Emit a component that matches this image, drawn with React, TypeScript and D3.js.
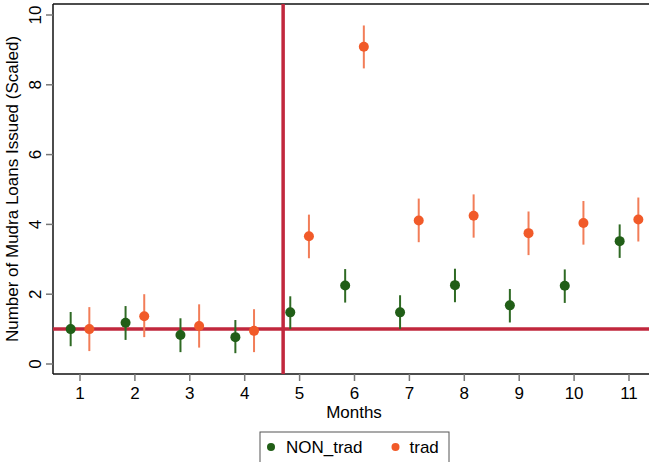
import React from "react";
import * as d3 from "d3";

const months = [1, 2, 3, 4, 5, 6, 7, 8, 9, 10, 11];
const nonTrad = [1.0, 1.18, 0.83, 0.77, 1.48, 2.25, 1.48, 2.26, 1.68, 2.24, 3.52];
const nonTradLo = [0.51, 0.69, 0.34, 0.31, 1.0, 1.76, 1.0, 1.77, 1.19, 1.75, 3.04];
const nonTradHi = [1.49, 1.66, 1.31, 1.26, 1.94, 2.72, 1.97, 2.73, 2.15, 2.71, 4.0];
const trad = [1.0, 1.37, 1.09, 0.95, 3.66, 9.09, 4.11, 4.25, 3.75, 4.04, 4.14];
const tradLo = [0.37, 0.77, 0.47, 0.34, 3.03, 8.47, 3.49, 3.62, 3.12, 3.42, 3.51];
const tradHi = [1.63, 2.0, 1.71, 1.57, 4.28, 9.7, 4.74, 4.86, 4.37, 4.67, 4.77];
const yTicks = [0, 2, 4, 6, 8, 10];
const refX = 4.7;
const refY = 1;

const W = 649;
const H = 462;
const FONT = "'Liberation Sans', Arial, Helvetica, sans-serif";

export default function App() {
  const x = d3.scaleLinear().domain([1, 11]).range([80, 629]);
  const y = d3.scaleLinear().domain([0, 10]).range([364, 15]);
  const left = 53;
  const top = 4;
  const bottom = 374;
  const off = 0.17;
  const green = "#215e17";
  const greenBar = "#2f6a24";
  const orange = "#f15a29";
  const orangeBar = "#f27d58";
  const red = "#c1273d";

  const series = [
    { vals: nonTrad, lo: nonTradLo, hi: nonTradHi, dx: -off, fill: green, bar: greenBar },
    { vals: trad, lo: tradLo, hi: tradHi, dx: off, fill: orange, bar: orangeBar },
  ];

  return (
    <svg width={W} height={H} style={{ position: "absolute", left: 0, top: 0, background: "#fff" }}>
      <rect x={0} y={0} width={W} height={H} fill="#fff" />
      <g fontFamily={FONT} fill="#000">
        {/* frame */}
        <line x1={left} x2={W} y1={top} y2={top} stroke="#111" strokeWidth={1.5} />
        <line x1={left} x2={left} y1={top} y2={bottom} stroke="#111" strokeWidth={1.5} />
        <line x1={left} x2={W} y1={bottom} y2={bottom} stroke="#111" strokeWidth={1.5} />
        {/* y ticks */}
        {yTicks.map((t) => (
          <g key={"y" + t}>
            <line x1={left - 7} x2={left} y1={y(t)} y2={y(t)} stroke="#777" strokeWidth={1.5} />
            <text
              transform={`translate(41,${y(t)}) rotate(-90)`}
              textAnchor="middle"
              fontSize={17}
            >
              {t}
            </text>
          </g>
        ))}
        {/* x ticks */}
        {months.map((m) => (
          <g key={"x" + m}>
            <line x1={x(m)} x2={x(m)} y1={bottom} y2={bottom + 7} stroke="#777" strokeWidth={1.5} />
            <text x={x(m)} y={399} textAnchor="middle" fontSize={17}>
              {m}
            </text>
          </g>
        ))}
        <text x={354} y={418} textAnchor="middle" fontSize={17}>
          Months
        </text>
        <text
          transform={`translate(18,${(top + bottom) / 2}) rotate(-90)`}
          textAnchor="middle"
          fontSize={17}
        >
          Number of Mudra Loans Issued (Scaled)
        </text>
        {/* reference lines */}
        <line x1={left} x2={W} y1={y(refY)} y2={y(refY)} stroke={red} strokeWidth={3.5} />
        <line x1={x(refX)} x2={x(refX)} y1={top} y2={bottom} stroke={red} strokeWidth={3.5} />
        {/* series */}
        {series.map((s, si) => (
          <g key={"s" + si}>
            {months.map((m, i) => (
              <line
                key={"b" + i}
                x1={x(m + s.dx)}
                x2={x(m + s.dx)}
                y1={y(s.lo[i])}
                y2={y(s.hi[i])}
                stroke={s.bar}
                strokeWidth={2}
              />
            ))}
            {months.map((m, i) => (
              <circle key={"c" + i} cx={x(m + s.dx)} cy={y(s.vals[i])} r={5} fill={s.fill} />
            ))}
          </g>
        ))}
        {/* legend */}
        <rect x={260} y={432} width={189} height={40} fill="#fff" stroke="#555" strokeWidth={1} />
        <circle cx={271} cy={447} r={4} fill={green} />
        <text x={286} y={452.5} fontSize={17}>NON_trad</text>
        <circle cx={395.5} cy={447} r={4} fill={orange} />
        <text x={409.5} y={452.5} fontSize={17}>trad</text>
      </g>
    </svg>
  );
}
